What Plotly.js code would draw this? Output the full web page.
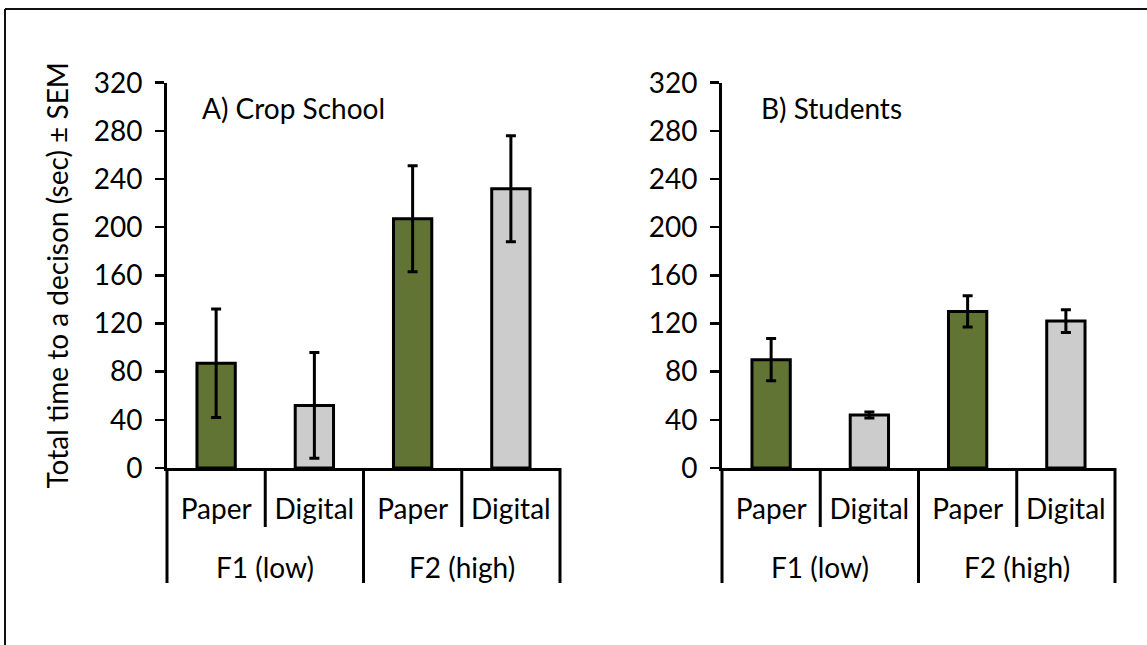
<!DOCTYPE html>
<html>
<head>
<meta charset="utf-8">
<script src="https://cdn.plot.ly/plotly-3.0.1.min.js"></script>
<style>
  html, body { margin: 0; padding: 0; background: #fff; }
  #chart { width: 1147px; height: 645px; }
</style>
</head>
<body>
<div id="chart"></div>
<script>
// ---- data ----
const categories = ["Paper", "Digital", "Paper", "Digital"];
const groupOfCategory = ["F1 (low)", "F1 (low)", "F2 (high)", "F2 (high)"];
const groups = ["F1 (low)", "F2 (high)"];
const cropSchoolMeans = [87, 52, 207, 232];
const cropSchoolSEM = [45, 44, 44, 44];
const studentMeans = [90, 44, 130, 122];
const studentSEM = [17.5, 2.5, 13, 9.5];
const yTickValues = [0, 40, 80, 120, 160, 200, 240, 280, 320];
const panelTitles = ["A) Crop School", "B) Students"];
const yTitle = "Total time to a decison (sec) \u00b1 SEM";

// ---- styles ----
const FONT = "Lato, 'Open Sans', sans-serif";
const FS = 28;
const colorFor = { "Paper": "#617434", "Digital": "#CCCCCC" };
const W = 1147, H = 645;

const idx = categories.map((_, i) => i);
const barColors = categories.map(c => colorFor[c]);

function barTrace(means, sem, xa, ya) {
  return {
    type: "bar",
    x: idx,
    y: means,
    xaxis: xa,
    yaxis: ya,
    width: 0.39,
    marker: { color: barColors, line: { color: "#000", width: 3 } },
    error_y: { type: "data", array: sem, visible: true, color: "#000", thickness: 3, width: 5 },
    hoverinfo: "y",
    showlegend: false
  };
}

const data = [
  barTrace(cropSchoolMeans, cropSchoolSEM, "x", "y"),
  barTrace(studentMeans, studentSEM, "x2", "y2")
];

const yDom = [(H - 468) / H, (H - 82.7) / H];
const xDomA = [167 / W, 560 / W];
const xDomB = [722 / W, 1115 / W];

function xAxis(dom, anchor) {
  return {
    domain: dom, anchor: anchor,
    range: [-0.5, categories.length - 0.5],
    tickmode: "array", tickvals: idx, ticktext: categories,
    ticks: "", showline: true, linecolor: "#000", linewidth: 3,
    showgrid: false, zeroline: false, fixedrange: true,
    tickfont: { family: FONT, size: FS, color: "#000" },
    ticklabelstandoff: 14
  };
}
function yAxis(anchor, withTitle) {
  const a = {
    domain: yDom, anchor: anchor,
    range: [0, 320],
    tickmode: "array", tickvals: yTickValues,
    ticks: "outside", ticklen: 9, tickwidth: 2.5, tickcolor: "#000",
    showline: true, linecolor: "#000", linewidth: 3,
    showgrid: false, zeroline: false, fixedrange: true,
    tickfont: { family: FONT, size: FS, color: "#000" },
    ticklabelstandoff: 7
  };
  if (withTitle) {
    a.title = { text: yTitle, font: { family: FONT, size: FS, color: "#000" }, standoff: 17 };
  }
  return a;
}

// axis decoration: boundary lines between categories / groups
const shapes = [];
const annotations = [];
const PLOT_H = 468 - 82.7;
const DIV_DEPTH = -(583 - 468) / PLOT_H;
const TICK_DEPTH = -(527 - 468) / PLOT_H;
["x", "x2"].forEach((xa, p) => {
  const ya = p === 0 ? "y" : "y2";
  for (let b = 0; b <= categories.length; b++) {
    const isGroupEdge = b === 0 || b === categories.length || groupOfCategory[b] !== groupOfCategory[b - 1];
    shapes.push({
      type: "line", xref: xa + " domain", yref: ya + " domain",
      x0: b / categories.length, x1: b / categories.length,
      y0: 0, y1: isGroupEdge ? DIV_DEPTH : TICK_DEPTH,
      line: { color: "#000", width: 3 }
    });
  }
  groups.forEach(g => {
    const members = idx.filter(i => groupOfCategory[i] === g);
    const center = members.reduce((s, v) => s + v, 0) / members.length;
    annotations.push({
      xref: xa, yref: ya + " domain", x: center, y: -(567 - 468) / PLOT_H,
      text: g, showarrow: false, xanchor: "center", yanchor: "middle",
      font: { family: FONT, size: FS, color: "#000" }
    });
  });
  annotations.push({
    xref: xa + " domain", yref: ya + " domain",
    x: p === 0 ? (200 - 167) / 393 : (759 - 722) / 393,
    y: (468 - 108) / PLOT_H,
    text: panelTitles[p], showarrow: false, xanchor: "left", yanchor: "middle",
    font: { family: FONT, size: FS, color: "#000" }
  });
});

// outer frame (top and left edges visible)
shapes.push({ type: "line", xref: "paper", yref: "paper", x0: 5 / W, x1: 1, y0: (H - 9) / H, y1: (H - 9) / H, line: { color: "#111", width: 2 } });
shapes.push({ type: "line", xref: "paper", yref: "paper", x0: 5 / W, x1: 5 / W, y0: 0, y1: (H - 9) / H, line: { color: "#111", width: 2 } });

const layout = {
  width: W, height: H,
  margin: { l: 0, r: 0, t: 0, b: 0 },
  paper_bgcolor: "#fff", plot_bgcolor: "#fff",
  font: { family: FONT, size: FS, color: "#000" },
  xaxis: xAxis(xDomA, "y"),
  yaxis: yAxis("x", true),
  xaxis2: xAxis(xDomB, "y2"),
  yaxis2: yAxis("x2", false),
  shapes: shapes,
  annotations: annotations,
  bargap: 0.6
};

Plotly.newPlot("chart", data, layout, { displayModeBar: false, staticPlot: true });
</script>
</body>
</html>
